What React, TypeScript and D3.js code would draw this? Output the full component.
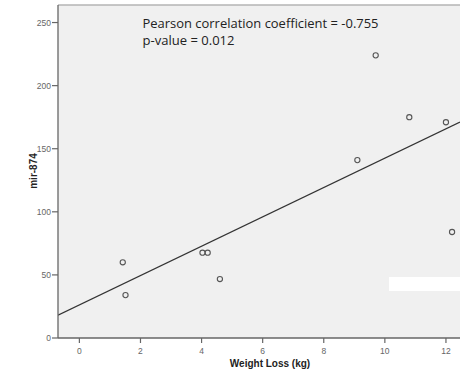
import React from "react";
import * as d3 from "d3";

const weightLoss = [1.42, 1.51, 4.03, 4.2, 4.6, 9.1, 9.7, 10.8, 12.0, 12.2];
const mir874 = [60, 34, 67.6, 67.6, 46.7, 141, 224, 175, 171, 84];
const xTicks = [0, 2, 4, 6, 8, 10, 12];
const yTicks = [0, 50, 100, 150, 200, 250];
const annotation = ["Pearson correlation coefficient = -0.755", "p-value = 0.012"];
const xTitle = "Weight Loss (kg)";
const yTitle = "mir-874";

export default function App() {
  const W = 460, H = 383;
  const left = 58, right = 460, top = 5, bottom = 338;
  const x = d3.scaleLinear().domain([-0.7, 12.46]).range([left, right]);
  const y = d3.scaleLinear().domain([0, 263.9]).range([bottom, top]);

  const mx = d3.mean(weightLoss)!;
  const my = d3.mean(mir874)!;
  let sxy = 0, sxx = 0;
  weightLoss.forEach((v, i) => {
    sxy += (v - mx) * (mir874[i] - my);
    sxx += (v - mx) * (v - mx);
  });
  const slope = sxy / sxx;
  const intercept = my - slope * mx;
  const [x0, x1] = x.domain();
  const line = d3.line<number>().x((d) => x(d)).y((d) => y(intercept + slope * d));

  const tickFont = "Liberation Sans, Arial, sans-serif";

  return (
    <svg width={W} height={H} style={{ position: "absolute", left: 0, top: 0 }}>
      <rect x={0} y={0} width={W} height={H} fill="#ffffff" />
      <rect x={left} y={top} width={right - left} height={bottom - top} fill="#f0f0f0" />
      <line x1={left} x2={right} y1={top} y2={top} stroke="#b4b4b4" strokeWidth={1.5} />
      <clipPath id="plotclip">
        <rect x={left} y={top} width={right - left} height={bottom - top} />
      </clipPath>
      <path d={line([x0, x1]) || ""} stroke="#333" strokeWidth={1.2} fill="none" clipPath="url(#plotclip)" />
      {weightLoss.map((v, i) => (
        <circle key={i} cx={x(v)} cy={y(mir874[i])} r={2.6} fill="none" stroke="#555" strokeWidth={1.1} />
      ))}
      <rect x={389} y={277} width={71} height={14} fill="#ffffff" />
      <line x1={left} x2={left} y1={top} y2={bottom} stroke="#666" strokeWidth={1.3} />
      <line x1={left} x2={right} y1={bottom} y2={bottom} stroke="#666" strokeWidth={1.3} />
      {yTicks.map((t) => (
        <g key={t}>
          <line x1={left - 6} x2={left} y1={y(t)} y2={y(t)} stroke="#666" strokeWidth={1.2} />
          <text x={left - 7} y={y(t) + 3} textAnchor="end" fontSize={8.5} fill="#666" fontFamily={tickFont}>{t}</text>
        </g>
      ))}
      {xTicks.map((t) => (
        <g key={t}>
          <line x1={x(t)} x2={x(t)} y1={bottom} y2={bottom + 5} stroke="#666" strokeWidth={1.2} />
          <text x={x(t)} y={bottom + 16} textAnchor="middle" fontSize={8.5} fill="#666" fontFamily={tickFont}>{t}</text>
        </g>
      ))}
      <text x={270} y={367} textAnchor="middle" fontSize={10} fontWeight="bold" fill="#222" fontFamily={tickFont}>{xTitle}</text>
      <text transform={`translate(37,171) rotate(-90)`} textAnchor="middle" fontSize={10} fontWeight="bold" fill="#222" fontFamily={tickFont}>{yTitle}</text>
      <text x={142.5} y={28} fontSize={13} fill="#222" fontFamily="Open Sans, sans-serif" textLength={236} lengthAdjust="spacingAndGlyphs">{annotation[0]}</text>
      <text x={142.5} y={45} fontSize={13} fill="#222" fontFamily="Open Sans, sans-serif" textLength={92} lengthAdjust="spacingAndGlyphs">{annotation[1]}</text>
    </svg>
  );
}
